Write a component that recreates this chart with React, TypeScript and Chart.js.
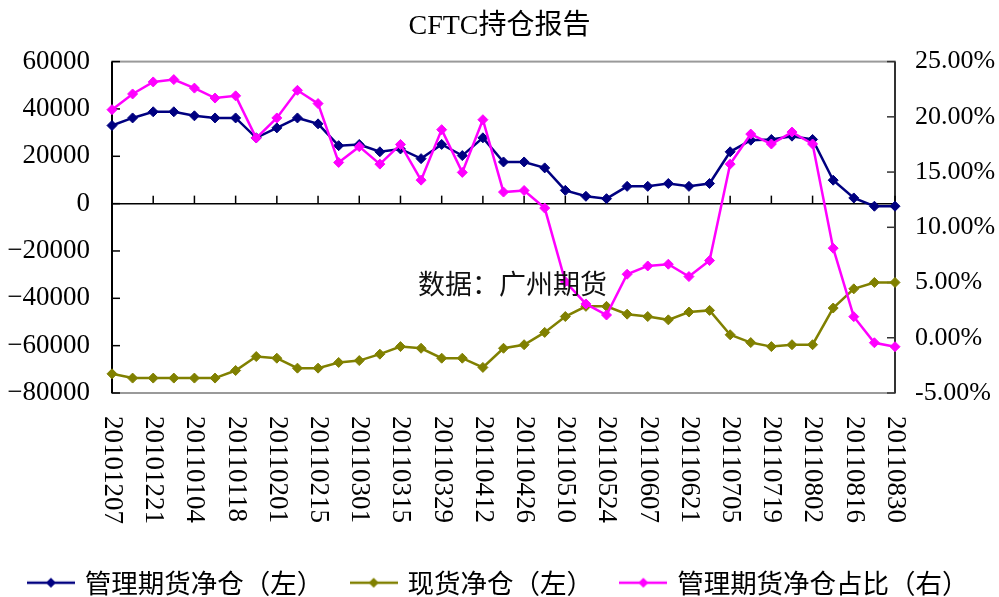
import React, { useEffect, useRef } from "react";
import { Chart, registerables } from "chart.js";

Chart.register(...registerables);

const dates = [
  "20101207", "20101214", "20101221", "20101228", "20110104", "20110111", "20110118", "20110125",
  "20110201", "20110208", "20110215", "20110222", "20110301", "20110308", "20110315", "20110322",
  "20110329", "20110405", "20110412", "20110419", "20110426", "20110503", "20110510", "20110517",
  "20110524", "20110531", "20110607", "20110614", "20110621", "20110628", "20110705", "20110712",
  "20110719", "20110726", "20110802", "20110809", "20110816", "20110823", "20110830",
];

const managedNet = [
  33000, 36200, 38800, 38800, 37100, 36200, 36200, 27800, 32000, 36200, 33700, 24500, 25000,
  21900, 23100, 19000, 25000, 20300, 27800, 17600, 17600, 15100, 5600, 3100, 2100, 7300, 7300,
  8500, 7300, 8500, 21900, 26800, 27100, 28500, 27100, 9900, 2400, -1100, -1100,
];

const spotNet = [
  -71900, -73700, -73700, -73700, -73700, -73700, -70500, -64600, -65300, -69500, -69500, -67100,
  -66300, -63600, -60400, -61100, -65300, -65300, -69200, -61100, -59600, -54400, -47700, -43400,
  -43400, -46700, -47700, -49100, -45800, -45100, -55400, -58700, -60400, -59600, -59600, -44100,
  -36000, -33300, -33300,
];

const managedShare = [
  20.65, 22.07, 23.16, 23.37, 22.6, 21.7, 21.9, 18.08, 19.9, 22.4, 21.2, 15.87, 17.3, 15.72, 17.5,
  14.27, 18.84, 14.97, 19.74, 13.19, 13.33, 11.74, 5.08, 3.06, 2.06, 5.75, 6.5, 6.66, 5.54, 6.99,
  15.72, 18.44, 17.54, 18.62, 17.54, 8.11, 1.91, -0.45, -0.81,
];

const seriesNames = ["管理期货净仓（左）", "现货净仓（左）", "管理期货净仓占比（右）"];
const seriesColors = ["#000080", "#808000", "#FF00FF"];
const titleText = "CFTC持仓报告";
const sourceText = "数据：广州期货";

const SERIF = "'Liberation Serif', 'Noto Sans CJK SC', serif";
const CJK = "'Noto Sans CJK SC', sans-serif";

function makeLegendImage(color: string): HTMLCanvasElement {
  const c = document.createElement("canvas");
  c.width = 48;
  c.height = 14;
  const g = c.getContext("2d")!;
  g.strokeStyle = color;
  g.lineWidth = 2.5;
  g.beginPath();
  g.moveTo(0, 7);
  g.lineTo(48, 7);
  g.stroke();
  g.fillStyle = color;
  g.beginPath();
  g.moveTo(24 - 5, 7);
  g.lineTo(24, 7 - 5);
  g.lineTo(24 + 5, 7);
  g.lineTo(24, 7 + 5);
  g.closePath();
  g.fill();
  return c;
}

const framePlugin = {
  id: "framePlugin",
  beforeDatasetsDraw(chart: any) {
    const { ctx, chartArea } = chart;
    const { left, right, top, bottom } = chartArea;
    const yS = chart.scales.y;
    const y1S = chart.scales.y1;
    const xS = chart.scales.x;
    ctx.save();
    // plot border
    ctx.strokeStyle = "#9a9a9a";
    ctx.lineWidth = 2;
    ctx.strokeRect(left, top, right - left, bottom - top);
    // left / right axis lines
    ctx.strokeStyle = "#000";
    ctx.lineWidth = 2;
    ctx.beginPath();
    ctx.moveTo(left, top);
    ctx.lineTo(left, bottom);
    ctx.stroke();
    ctx.strokeStyle = "#333";
    ctx.beginPath();
    ctx.moveTo(right, top);
    ctx.lineTo(right, bottom);
    ctx.stroke();
    // inward ticks
    ctx.lineWidth = 1.5;
    ctx.strokeStyle = "#000";
    yS.ticks.forEach((t: any) => {
      const y = yS.getPixelForValue(t.value);
      ctx.beginPath();
      ctx.moveTo(left, y);
      ctx.lineTo(left + 8, y);
      ctx.stroke();
    });
    ctx.strokeStyle = "#333";
    y1S.ticks.forEach((t: any) => {
      const y = y1S.getPixelForValue(t.value);
      ctx.beginPath();
      ctx.moveTo(right - 8, y);
      ctx.lineTo(right, y);
      ctx.stroke();
    });
    // category axis at zero
    const y0 = yS.getPixelForValue(0);
    ctx.strokeStyle = "#000";
    ctx.lineWidth = 1.5;
    ctx.beginPath();
    ctx.moveTo(left, y0);
    ctx.lineTo(right, y0);
    ctx.stroke();
    dates.forEach((d, i) => {
      if (i % 2 !== 0) return;
      const x = xS.getPixelForValue(i);
      ctx.beginPath();
      ctx.moveTo(x, y0 - 8);
      ctx.lineTo(x, y0);
      ctx.stroke();
    });
    ctx.restore();
  },
  afterDraw(chart: any) {
    const { ctx, chartArea } = chart;
    const xS = chart.scales.x;
    ctx.save();
    ctx.fillStyle = "#000";
    ctx.font = `27px ${SERIF}`;
    ctx.textAlign = "left";
    ctx.textBaseline = "middle";
    dates.forEach((d, i) => {
      if (i % 2 !== 0) return;
      const x = xS.getPixelForValue(i);
      ctx.save();
      ctx.translate(x, chartArea.bottom + 23);
      ctx.rotate(Math.PI / 2);
      ctx.fillText(d, 0, 0);
      ctx.restore();
    });
    ctx.font = `27px ${CJK}`;
    ctx.fillStyle = "#111";
    ctx.fillText(sourceText, chartArea.left + 306, chartArea.top + 222);
    ctx.restore();
  },
};

export default function App() {
  const ref = useRef<HTMLCanvasElement | null>(null);

  useEffect(() => {
    if (!ref.current) return;
    const imgs = seriesColors.map(makeLegendImage);
    const mk = (i: number, data: number[], axis: string, order: number) => ({
      label: seriesNames[i],
      data,
      yAxisID: axis,
      borderColor: seriesColors[i],
      backgroundColor: seriesColors[i],
      pointBackgroundColor: seriesColors[i],
      pointBorderColor: seriesColors[i],
      borderWidth: 2.5,
      pointStyle: "rectRot",
      pointRadius: 5,
      pointBorderWidth: 1,
      tension: 0,
      fill: false,
      clip: false,
      order,
    });
    const chart = new Chart(ref.current, {
      type: "line",
      data: {
        labels: dates,
        datasets: [
          mk(0, managedNet, "y", 3),
          mk(1, spotNet, "y", 2),
          mk(2, managedShare, "y1", 1),
        ] as any,
      },
      plugins: [framePlugin],
      options: {
        responsive: false,
        animation: false,
        devicePixelRatio: 1,
        layout: { padding: { top: 0, left: 0, right: 0, bottom: -9 } },
        plugins: {
          tooltip: { enabled: false },
          title: {
            display: true,
            text: titleText,
            color: "#000",
            font: { family: SERIF, size: 28, weight: "normal" },
            padding: { top: 10, bottom: 18 },
          },
          legend: {
            position: "bottom",
            labels: {
              usePointStyle: true,
              pointStyleWidth: 41,
              padding: 30,
              color: "#000",
              font: { family: CJK, size: 26.5 },
              generateLabels: (c: any) =>
                c.data.datasets.map((ds: any, i: number) => ({
                  text: ds.label,
                  pointStyle: imgs[i],
                  fillStyle: seriesColors[i],
                  strokeStyle: seriesColors[i],
                  lineWidth: 0,
                  hidden: false,
                  datasetIndex: i,
                  fontColor: "#000",
                })),
            },
          },
        },
        scales: {
          x: {
            type: "category",
            offset: false,
            grid: { display: false, drawTicks: false },
            border: { display: false },
            ticks: { display: false },
            afterFit: (s: any) => {
              s.height = 146.5;
            },
          },
          y: {
            position: "left",
            min: -80000,
            max: 60000,
            grid: { display: false, drawTicks: false },
            border: { display: false },
            ticks: {
              stepSize: 20000,
              padding: 22,
              color: "#000",
              font: { family: SERIF, size: 27 },
              callback: (v: any) => (v < 0 ? "\u2212" + Math.abs(v) : String(v)),
            },
            afterFit: (s: any) => {
              s.width = 112;
            },
          },
          y1: {
            position: "right",
            min: -5,
            max: 25,
            grid: { display: false, drawTicks: false },
            border: { display: false },
            ticks: {
              stepSize: 5,
              padding: 20,
              color: "#000",
              font: { family: SERIF, size: 26 },
              callback: (v: any) => Number(v).toFixed(2) + "%",
            },
            afterFit: (s: any) => {
              s.width = 104;
            },
          },
        },
      } as any,
    });
    return () => chart.destroy();
  }, []);

  return (
    <div style={{ position: "absolute", left: 0, top: 0, width: 999, height: 597, background: "#fff" }}>
      <canvas ref={ref} width={999} height={597} style={{ display: "block" }} />
    </div>
  );
}
